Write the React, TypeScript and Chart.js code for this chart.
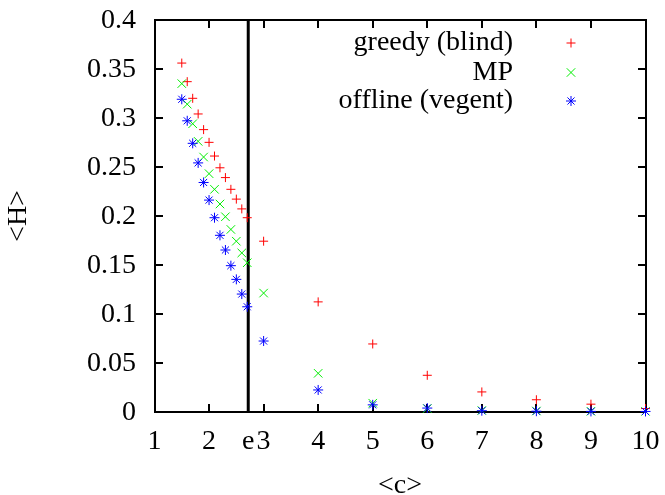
import React, { useEffect, useRef } from 'react';
import { Chart, registerables } from 'chart.js';

Chart.register(...registerables);

const xValues = [1.5, 1.6, 1.7, 1.8, 1.9, 2.0, 2.1, 2.2, 2.3, 2.4, 2.5, 2.6, 2.7, 3, 4, 5, 6, 7, 8, 9, 10];
const greedyBlind = [0.356, 0.337, 0.320, 0.304, 0.288, 0.275, 0.261, 0.249, 0.239, 0.227, 0.217, 0.207, 0.198, 0.174, 0.112, 0.069, 0.037, 0.020, 0.012, 0.0075, 0.003];
const mp = [0.335, 0.314, 0.294, 0.276, 0.260, 0.243, 0.227, 0.212, 0.199, 0.186, 0.174, 0.162, 0.152, 0.121, 0.039, 0.0085, 0.003, 0.001, 0.0005, 0.0002, 0.0001];
const offlineVegent = [0.319, 0.297, 0.274, 0.254, 0.234, 0.216, 0.198, 0.180, 0.165, 0.149, 0.135, 0.120, 0.107, 0.072, 0.022, 0.0068, 0.0035, 0.0008, 0.0003, 0.0001, 0.00005];

const seriesNames = ['greedy (blind)', 'MP', 'offline (vegent)'];
const seriesColors = ['#ff0000', '#00ee00', '#0000ff'];
const seriesStyles = ['cross', 'crossRot', 'star'];

const xTickValues = [1, 2, Math.E, 3, 4, 5, 6, 7, 8, 9, 10];
const xTickLabels = ['1', '2', 'e', '3', '4', '5', '6', '7', '8', '9', '10'];
const yTickValues = [0, 0.05, 0.1, 0.15, 0.2, 0.25, 0.3, 0.35, 0.4];
const yTickLabels = ['0', '0.05', '0.1', '0.15', '0.2', '0.25', '0.3', '0.35', '0.4'];
const xTitle = '<c>';
const yTitle = '<H>';
const eLineValue = Math.E;

const FONT = '"Liberation Serif", "Times New Roman", serif';
const FONT_SIZE = 28;

function drawMarker(ctx: CanvasRenderingContext2D, style: string, x: number, y: number, color: string) {
  ctx.save();
  ctx.strokeStyle = color;
  ctx.lineWidth = 1;
  ctx.beginPath();
  if (style === 'cross' || style === 'star') {
    const r = style === 'cross' ? 4.5 : 5;
    ctx.moveTo(x - r, y); ctx.lineTo(x + r, y);
    ctx.moveTo(x, y - r); ctx.lineTo(x, y + r);
  }
  if (style === 'crossRot' || style === 'star') {
    const r = (style === 'crossRot' ? 6 : 5) * Math.SQRT1_2;
    ctx.moveTo(x - r, y - r); ctx.lineTo(x + r, y + r);
    ctx.moveTo(x - r, y + r); ctx.lineTo(x + r, y - r);
  }
  ctx.stroke();
  ctx.restore();
}

function seg(ctx: CanvasRenderingContext2D, x1: number, y1: number, x2: number, y2: number, w: number) {
  ctx.lineWidth = w;
  ctx.beginPath();
  ctx.moveTo(x1, y1);
  ctx.lineTo(x2, y2);
  ctx.stroke();
}

const framePlugin = {
  id: 'gnuframe',
  beforeDatasetsDraw(chart: any) {
    const { ctx, chartArea, scales } = chart;
    const left = Math.round(chartArea.left);
    const right = Math.round(chartArea.right);
    const top = Math.round(chartArea.top);
    const bottom = Math.round(chartArea.bottom);
    ctx.save();
    ctx.strokeStyle = '#000000';
    ctx.lineCap = 'square';
    seg(ctx, left, top, right, top, 2);
    seg(ctx, right, top, right, bottom, 2);
    seg(ctx, right, bottom, left, bottom, 2);
    seg(ctx, left, bottom, left, top, 2);
    ctx.lineCap = 'butt';
    const tl = 8;
    xTickValues.forEach((v) => {
      const px = Math.round(scales.x.getPixelForValue(v));
      seg(ctx, px, bottom, px, bottom - tl, 2);
      seg(ctx, px, top, px, top + tl, 2);
    });
    yTickValues.forEach((v) => {
      const py = Math.round(scales.y.getPixelForValue(v));
      seg(ctx, left, py, left + tl, py, 2);
      seg(ctx, right, py, right - tl, py, 2);
    });
    const ex = scales.x.getPixelForValue(eLineValue);
    seg(ctx, ex, top, ex, bottom, 3);
    ctx.restore();
  },
  afterDraw(chart: any) {
    const { ctx, scales } = chart;
    ctx.save();
    ctx.fillStyle = '#000';
    ctx.font = `${FONT_SIZE}px ${FONT}`;
    ctx.textBaseline = 'middle';
    ctx.textAlign = 'right';
    yTickValues.forEach((v, i) => {
      ctx.fillText(yTickLabels[i], 136, scales.y.getPixelForValue(v) + 1);
    });
    ctx.textAlign = 'center';
    xTickValues.forEach((v, i) => {
      ctx.fillText(xTickLabels[i], scales.x.getPixelForValue(v), 442);
    });
    ctx.textAlign = 'right';
    const rows = [43, 72.5, 101];
    seriesNames.forEach((name, i) => {
      ctx.fillText(name, 513, rows[i]);
      drawMarker(ctx, seriesStyles[i], 571, rows[i], seriesColors[i]);
    });
    ctx.textAlign = 'center';
    ctx.fillText(xTitle, 400, 486);
    ctx.translate(19, 216);
    ctx.rotate(-Math.PI / 2);
    ctx.fillText(yTitle, 0, 0);
    ctx.restore();
  },
};

export default function App() {
  const ref = useRef<HTMLCanvasElement | null>(null);
  useEffect(() => {
    if (!ref.current) return;
    const mk = (vals: number[]) => xValues.map((x, i) => ({ x, y: vals[i] }));
    const allSeries = [greedyBlind, mp, offlineVegent];
    const radii = [4.5, 6, 5];
    const chart = new Chart(ref.current, {
      type: 'scatter',
      data: {
        datasets: allSeries.map((vals, i) => ({
          label: seriesNames[i],
          data: mk(vals),
          pointStyle: seriesStyles[i] as any,
          pointRadius: radii[i],
          pointHoverRadius: radii[i],
          borderColor: seriesColors[i],
          backgroundColor: seriesColors[i],
          pointBorderWidth: 1,
          borderWidth: 1,
          showLine: false,
          clip: 8,
          order: 2 - i,
        })),
      },
      options: {
        animation: false,
        responsive: false,
        maintainAspectRatio: false,
        layout: { padding: { top: 20, right: 19.5, left: 0, bottom: 0 } },
        plugins: { legend: { display: false }, tooltip: { enabled: false } },
        events: [],
        scales: {
          x: {
            type: 'linear',
            min: 1,
            max: 10,
            grid: { display: false, drawTicks: false },
            border: { display: false },
            afterBuildTicks: (s: any) => { s.ticks = xTickValues.map((v) => ({ value: v })); },
            afterFit: (s: any) => { s.height = 83.5; },
            ticks: { display: false },
          },
          y: {
            type: 'linear',
            min: 0,
            max: 0.4,
            grid: { display: false, drawTicks: false },
            border: { display: false },
            afterBuildTicks: (s: any) => { s.ticks = yTickValues.map((v) => ({ value: v })); },
            afterFit: (s: any) => { s.width = 154.5; },
            ticks: { display: false },
          },
        },
      },
      plugins: [framePlugin],
    });
    return () => chart.destroy();
  }, []);
  return (
    <div style={{ position: 'fixed', left: 0, top: 0, width: 665, height: 495, background: '#fff' }}>
      <canvas ref={ref} width={665} height={495} style={{ display: 'block', width: 665, height: 495 }} />
    </div>
  );
}
